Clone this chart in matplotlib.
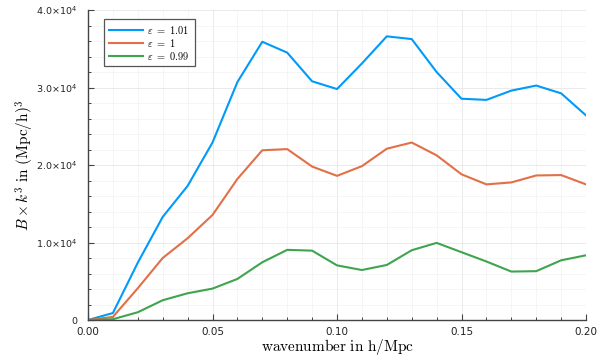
import numpy as np
import matplotlib.pyplot as plt
from matplotlib.ticker import MultipleLocator, FuncFormatter

# datos
k = [0.00, 0.01, 0.02, 0.03, 0.04, 0.05, 0.06, 0.07, 0.08, 0.09, 0.10,
     0.11, 0.12, 0.13, 0.14, 0.15, 0.16, 0.17, 0.18, 0.19, 0.20]
b_101 = [0, 900, 7400, 13300, 17300, 22900, 30700, 35900, 34500, 30800, 29800,
         33100, 36600, 36250, 32000, 28550, 28400, 29600, 30250, 29250, 26400]
b_100 = [0, 400, 4100, 8000, 10550, 13550, 18200, 21900, 22050, 19800, 18600,
         19850, 22100, 22900, 21250, 18800, 17500, 17750, 18650, 18700, 17500]
b_099 = [0, 100, 1000, 2550, 3450, 4050, 5300, 7450, 9050, 8950, 7050,
         6450, 7100, 9000, 9950, 8750, 7550, 6250, 6300, 7700, 8350]
labels = [r'$\varepsilon\ =\ 1.01$', r'$\varepsilon\ =\ 1$', r'$\varepsilon\ =\ 0.99$']
colors = ['#009AFA', '#E36F47', '#3EA44E']

fig = plt.figure(figsize=(6.11, 3.57), dpi=100)
ax = fig.add_axes([88/611, 1-320/357, 498/611, 310/357])

for y, lab, c in zip([b_101, b_100, b_099], labels, colors):
    ax.plot(k, y, color=c, lw=1.5, label=lab)

ax.set_xlim(0, 0.2)
ax.set_ylim(0, 40000)

#ticks
ax.xaxis.set_major_locator(MultipleLocator(0.05))
ax.xaxis.set_minor_locator(MultipleLocator(0.01))
ax.yaxis.set_major_locator(MultipleLocator(10000))
ax.yaxis.set_minor_locator(MultipleLocator(2000))

def yfmt(v, pos):
    if v == 0:
        return '0'
    return r'$\mathregular{%.1f{\times}10^{4}}$' % (v / 1e4)

ax.xaxis.set_major_formatter(FuncFormatter(lambda v, p: '%.2f' % v))
ax.yaxis.set_major_formatter(FuncFormatter(yfmt))
ax.tick_params(which='both', direction='in', color='#444444', labelsize=7.5,
               labelcolor='#222222')
ax.tick_params(which='major', length=4, width=0.8)
ax.tick_params(which='minor', length=2.5, width=0.7)
ax.tick_params(axis='y', which='major', pad=8, labelsize=6.8)
ax.tick_params(axis='x', which='major', pad=5)
for t in ax.get_yticklabels():
    t.set_math_fontfamily('dejavusans')

#grid
ax.grid(which='major', color='#e6e6e6', lw=0.6)
ax.grid(which='minor', color='#f1f1f1', lw=0.5)
ax.set_axisbelow(True)

for s in ['top', 'right']:
    ax.spines[s].set_visible(False)
for s in ['left', 'bottom']:
    ax.spines[s].set_color('#444444')
    ax.spines[s].set_linewidth(1.0)

#textos
ax.set_xlabel(r'$\mathrm{wavenumber\ in\ h/Mpc}$', fontsize=11, math_fontfamily='cm')
ax.set_ylabel(r'$B\times k^3\ \mathrm{in}\ (\mathrm{Mpc/h})^3$', fontsize=11,
              math_fontfamily='cm')
ax.xaxis.set_label_coords(0.5, -0.055)
ax.yaxis.set_label_coords(-0.105, 0.5)

leg = ax.legend(loc='upper left', bbox_to_anchor=(16/498, 1 - 9/310), fontsize=7.5,
                fancybox=False, framealpha=1, edgecolor='#555555', borderaxespad=0,
                handlelength=3.3, borderpad=0.45, labelspacing=0.1, handletextpad=0.4)
for t in leg.get_texts():
    t.set_math_fontfamily('cm')
leg.get_frame().set_linewidth(0.9)

fig.savefig('out.png', dpi=100)
